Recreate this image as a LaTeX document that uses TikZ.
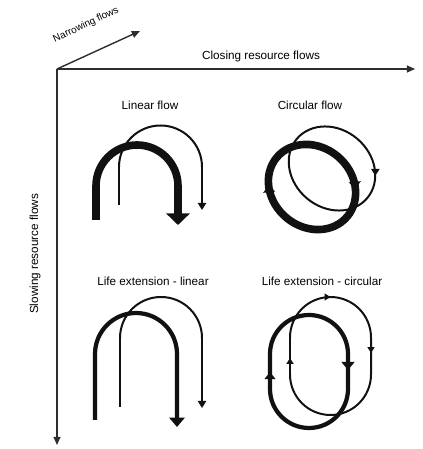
\documentclass[tikz,border=0pt]{standalone}
\usepackage{fontspec}
\setmainfont{Liberation Sans}
\usetikzlibrary{arrows.meta, positioning, decorations.markings}
\definecolor{axiscol}{HTML}{2E2E2E}
\definecolor{flowcol}{HTML}{111111}
\tikzset{
  axis/.style={draw=axiscol, line width=1.2pt, -{Triangle[length=7pt, width=6pt]}},
  bigflow/.style={draw=flowcol, line width=6.5pt},
  midflow/.style={draw=flowcol, line width=3.6pt},
  thinflow/.style={draw=flowcol, line width=1.7pt},
  lbl/.style={font=\fontsize{10}{12}\selectfont, text=black, inner sep=1pt},
  flowtips/.style={postaction={decorate}, decoration={markings, #1}},
}

\begin{document}
\begin{tikzpicture}[x=0.03cm, y=0.03cm]
  \useasboundingbox (0,0) rectangle (423,449);
  \coordinate (O)  at (57,380);
  \coordinate (cx) at (415,380);
  \coordinate (sy) at (57,4);
  \coordinate (nz) at (140,418);
  \draw[axis] (O) -- (cx);
  \draw[axis] (O) -- (sy);
  \draw[axis] (O) -- (nz);
  \node[lbl] (closing) at (261,393) {Closing resource flows};
  \node[lbl, rotate=90] (slowing) at (35,195) {Slowing resource flows};
  \node[lbl, rotate=25, font=\fontsize{8.5}{10}\selectfont] (narrowing) at (86,424) {Narrowing flows};
  \node[lbl] (linear)   at (150,344) {Linear flow};
  \node[lbl] (circular) at (310,344) {Circular flow};
  \node[lbl] (lifelin)  at (153,168) {Life extension - linear};
  \node[lbl] (lifecirc) at (322,168) {Life extension - circular};

  \coordinate (lt) at (96,229);
  \coordinate (ln) at (119,244);
  \draw[thinflow, -{Triangle[length=6pt, width=7pt]}] (ln) -- ++(0,38) arc[start angle=180, end angle=0, radius=41.5] -- ++(0,-43);
  \draw[bigflow, -{Triangle[length=10pt, width=20pt]}] (lt) -- ++(0,34) arc[start angle=180, end angle=0, radius=41] -- ++(0,-39);

  \coordinate (ct) at (312,262);
  \coordinate (cn) at (332,280.5);
  \draw[thinflow, rotate around={-40:(cn)}, flowtips={mark=at position 0.09 with {\arrowreversed{Triangle[length=6pt, width=7pt]}}}] (cn) ellipse[x radius=46, y radius=39];
  \draw[bigflow, rotate around={-40:(ct)}, flowtips={mark=at position 0.11 with {\arrowreversed{Triangle[length=6pt, width=10pt]}}, mark=at position 0.61 with {\arrowreversed{Triangle[length=6pt, width=10pt]}}}] (ct) ellipse[x radius=46, y radius=40];

  \coordinate (et) at (95,29);
  \coordinate (en) at (120,42);
  \draw[thinflow, -{Triangle[length=6pt, width=7pt]}] (en) -- ++(0,69) arc[start angle=180, end angle=0, radius=41] -- ++(0,-70);
  \draw[midflow, -{Triangle[length=8pt, width=13pt]}] (et) -- ++(0,66) arc[start angle=180, end angle=0, radius=41] -- ++(0,-73);

  \coordinate (st) at (270,60);
  \coordinate (sn) at (290,74.5);
  \draw[thinflow, flowtips={mark=at position 0.05 with {\arrow{Triangle[length=5pt, width=6pt]}}, mark=at position 0.306 with {\arrow{Triangle[length=5pt, width=6pt]}}, mark=at position 0.547 with {\arrow{Triangle[length=5pt, width=6pt]}}}] (sn) -- ++(0,37) arc[start angle=180, end angle=0, radius=40.5] -- ++(0,-37) arc[start angle=0, end angle=-180, radius=40.5] -- cycle;
  \draw[midflow, flowtips={mark=at position 0.054 with {\arrow{Triangle[length=6pt, width=9pt]}}, mark=at position 0.551 with {\arrow{Triangle[length=7pt, width=11pt]}}}] (st) -- ++(0,35) arc[start angle=180, end angle=0, radius=39] -- ++(0,-35) arc[start angle=0, end angle=-180, radius=39] -- cycle;
\end{tikzpicture}
\end{document}
